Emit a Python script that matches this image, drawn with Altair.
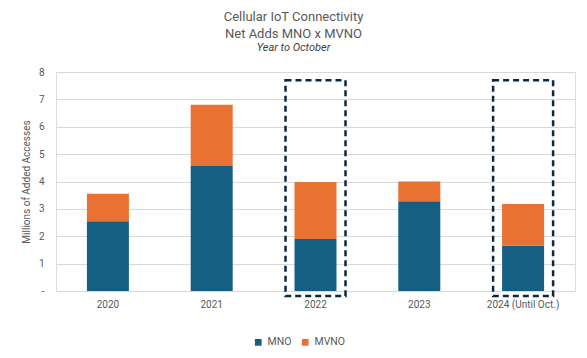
import altair as alt
import pandas as pd

years = ["2020", "2021", "2022", "2023", "2024 (Until Oct.)"]
mno = [2.55, 4.57, 1.90, 3.28, 1.65]
mvno = [1.00, 2.23, 2.08, 0.72, 1.53]
series = ["MNO", "MVNO"]
colors = ["#156082", "#E97132"]
highlighted = ["2022", "2024 (Until Oct.)"]
box_top = 7.7
box_bottom = -0.18
y_ticks = [0, 1, 2, 3, 4, 5, 6, 7, 8]

rows = []
for yr, a, b in zip(years, mno, mvno):
    rows.append({"year": yr, "type": "MNO", "value": a, "ord": 0})
    rows.append({"year": yr, "type": "MVNO", "value": b, "ord": 1})
df = pd.DataFrame(rows)
boxes = pd.DataFrame({"year": highlighted,
                      "top": [box_top] * len(highlighted),
                      "bottom": [box_bottom] * len(highlighted)})

FONT = "Roboto"
GRAY = "#595959"

xaxis = alt.Axis(title=None, labelAngle=0, ticks=False, domain=False,
                 labelPadding=8, labelFontSize=10, labelColor=GRAY,
                 labelFont=FONT)
yaxis = alt.Axis(values=y_ticks, title="Millions of Added Accesses",
                 labelExpr="datum.value == 0 ? '-' : datum.label",
                 labelOverlap=False, ticks=False, domain=False, labelPadding=12,
                 labelFontSize=10, labelColor=GRAY, labelFont=FONT,
                 titleFontSize=10, titleColor=GRAY, titleFont=FONT,
                 titleFontWeight="normal", titlePadding=7,
                 gridColor="#D9D9D9", gridWidth=1)
yscale = alt.Scale(domain=[0, 8], nice=False)
xscale = alt.Scale(paddingInner=0, paddingOuter=0)

bars = alt.Chart(df).mark_bar(size=42).encode(
    x=alt.X("year:N", sort=years, scale=xscale, axis=xaxis),
    y=alt.Y("value:Q", stack="zero", scale=yscale, axis=yaxis),
    color=alt.Color("type:N", sort=series,
                    scale=alt.Scale(domain=series, range=colors),
                    legend=alt.Legend(title=None, orient="none", direction="horizontal",
                                      legendX=197, legendY=265, symbolType="square",
                                      symbolSize=45, labelFontSize=10.5,
                                      labelColor=GRAY, labelFont=FONT, labelOffset=4,
                                      columnPadding=8, symbolStrokeWidth=0)),
    order=alt.Order("ord:Q"),
)

box = alt.Chart(boxes).mark_bar(size=60, fillOpacity=0, stroke="#0E2841",
                                strokeWidth=2.5, strokeDash=[6, 4]).encode(
    x=alt.X("year:N", sort=years, scale=xscale, axis=xaxis),
    y=alt.Y("top:Q", scale=yscale, axis=yaxis),
    y2="bottom:Q",
)

chart = alt.layer(bars, box).properties(
    width=519, height=219,
    autosize=alt.AutoSizeParams(type="none"),
    padding={"left": 48, "top": 64, "right": 4, "bottom": 56},
    title=alt.TitleParams(text=["Cellular IoT Connectivity", "Net Adds MNO x MVNO"],
                          subtitle="Year to October", fontSize=13, font=FONT,
                          color=GRAY, fontWeight="normal", lineHeight=17,
                          subtitleFont=FONT, subtitleFontSize=11,
                          subtitleFontStyle="italic", subtitleColor="#404040",
                          subtitlePadding=1, offset=14, dx=-22, anchor="middle"),
).configure_view(stroke=None).configure(background="white")

chart.save("out.html", embed_options={"renderer": "svg", "actions": False})
